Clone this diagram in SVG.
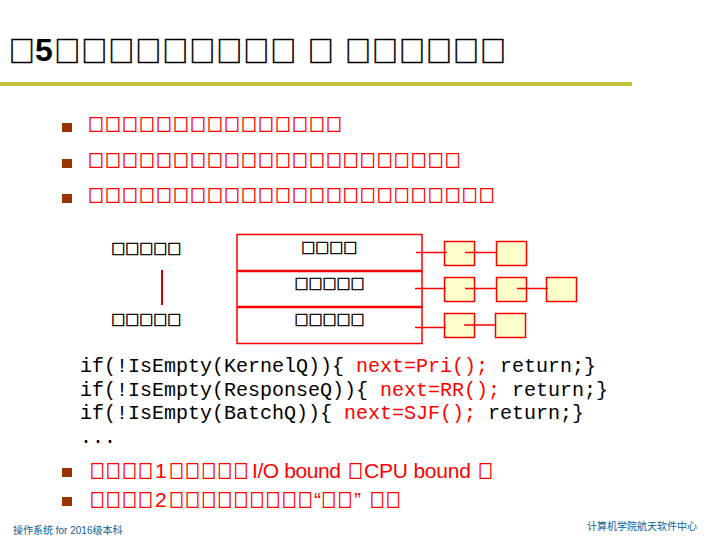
<svg xmlns="http://www.w3.org/2000/svg" width="720" height="540" viewBox="0 0 720 540">
<style>
.cjk{font-family:"Noto Sans CJK SC","Noto Sans CJK JP",sans-serif}
.lat{font-family:"Liberation Sans",Arial,"Noto Sans CJK SC",sans-serif}
.mono{font-family:"Liberation Mono","Courier New",monospace;font-size:20px}
.red{fill:#FF0000}
.blk{fill:#000000}
.tb{stroke:#000000;stroke-width:0.55}
.tr{stroke:#FF0000;stroke-width:0.5}
.t1{font-size:25.6px;letter-spacing:1.4px}
.t2{font-size:15.4px;letter-spacing:1.6px}
.t3{font-size:14px;letter-spacing:0px}
.t4{font-size:14px;letter-spacing:2.1px}
.bul{fill:#993300}
.qbox{fill:#FFFFFF;stroke:#FF0000;stroke-width:1.5}
.node{fill:#FFFFCC;stroke:#FF0000;stroke-width:1.5}
.link{stroke:#FF0000;stroke-width:1.5;fill:none}
.foot{fill:#0B5E98;font-size:10px}
</style>
<rect width="720" height="540" fill="#FFFFFF"/>

<g id="title">
  <text class="cjk blk tb t1" transform="translate(0,61.7) scale(1,1.1)" x="8.9" y="0">□</text>
  <text class="lat blk" font-size="32" font-weight="bold" x="35" y="61">5</text>
  <text class="cjk blk tb t1" transform="translate(0,61.7) scale(1,1.1)" x="54.5" y="0">□□□□□□□□□</text>
  <text class="cjk blk tb t1" transform="translate(0,61.7) scale(1,1.1)" x="307.9" y="0">□</text>
  <text class="cjk blk tb t1" transform="translate(0,61.7) scale(1,1.1)" x="345.2" y="0">□□□□□□</text>
  <rect x="0" y="82" width="632" height="4" fill="#C2C23A"/>
</g>

<g id="bullets">
  <g id="bullet1"><rect class="bul" x="62" y="123" width="10" height="9"/><text class="cjk red tr t2" transform="translate(0,130.8) scale(1,1.08)" x="88.3" y="0">□□□□□□□□□□□□□□□</text></g>
  <g id="bullet2"><rect class="bul" x="62" y="159" width="10" height="9"/><text class="cjk red tr t2" transform="translate(0,166.8) scale(1,1.08)" x="88.3" y="0">□□□□□□□□□□□□□□□□□□□□□□</text></g>
  <g id="bullet3"><rect class="bul" x="62" y="194" width="10" height="9"/><text class="cjk red tr t2" transform="translate(0,201.8) scale(1,1.08)" x="88.3" y="0">□□□□□□□□□□□□□□□□□□□□□□□□</text></g>
</g>

<g id="priority-labels">
  <text class="cjk blk tb t3" x="111.2" y="253.8">□□□□□</text>
  <line x1="162" y1="270" x2="162" y2="305" stroke="#CC0000" stroke-width="2"/>
  <text class="cjk blk tb t3" x="111.2" y="325.3">□□□□□</text>
</g>

<g id="queue1"><rect class="qbox" x="237" y="234.5" width="185" height="36"/><text class="cjk blk tb t3" x="301.2" y="252.6">□□□□</text></g>
<g id="queue2"><rect class="qbox" x="237" y="271.5" width="185" height="35"/><text class="cjk blk tb t3" x="294.5" y="288.6">□□□□□</text></g>
<g id="queue3"><rect class="qbox" x="237" y="307.5" width="185" height="36"/><text class="cjk blk tb t3" x="294.5" y="325.3">□□□□□</text></g>

<g id="nodes">
  <rect id="n11" class="node" x="444.5" y="241.5" width="30" height="24"/>
  <rect id="n12" class="node" x="496.5" y="241.5" width="30" height="24"/>
  <rect id="n21" class="node" x="444.5" y="277.5" width="30" height="24"/>
  <rect id="n22" class="node" x="496.5" y="277.5" width="30" height="24"/>
  <rect id="n23" class="node" x="546.5" y="277.5" width="30" height="24"/>
  <rect id="n31" class="node" x="444.5" y="313.5" width="30" height="24"/>
  <rect id="n32" class="node" x="495.5" y="313.5" width="30" height="24"/>
</g>

<g id="connectors">
  <line class="link" x1="416" y1="252.5" x2="447" y2="252.5"/>
  <line class="link" x1="465" y1="252.5" x2="497" y2="252.5"/>
  <line class="link" x1="415" y1="288.5" x2="446" y2="288.5"/>
  <line class="link" x1="465" y1="288.5" x2="496" y2="288.5"/>
  <line class="link" x1="517" y1="288.5" x2="548" y2="288.5"/>
  <line class="link" x1="415" y1="327.5" x2="446" y2="327.5"/>
  <line class="link" x1="464" y1="325" x2="496" y2="325"/>
</g>

<g id="code" class="mono blk">
  <text x="80" y="372">if(!IsEmpty(KernelQ)){ <tspan class="red">next=Pri();</tspan> return;}</text>
  <text x="80" y="395.5">if(!IsEmpty(ResponseQ)){ <tspan class="red">next=RR();</tspan> return;}</text>
  <text x="80" y="419">if(!IsEmpty(BatchQ)){ <tspan class="red">next=SJF();</tspan> return;}</text>
  <text x="80" y="442.5">...</text>
</g>

<g id="notes">
  <g id="note1">
    <rect class="bul" x="62" y="468" width="10" height="9"/>
    <text class="cjk red tr t4" transform="translate(0,478.1) scale(1,1.27)" x="90.2" y="0">□□□□</text>
    <text class="lat red" font-size="21" x="155" y="478">1</text>
    <text class="cjk red tr t4" transform="translate(0,478.1) scale(1,1.27)" x="169.5" y="0">□□□□□</text>
    <text class="lat red" font-size="21" x="252" y="478" textLength="89">I/O bound</text>
    <text class="cjk red tr t4" transform="translate(0,478.1) scale(1,1.27)" x="348.5" y="0">□</text>
    <text class="lat red" font-size="21" x="364" y="478" textLength="107">CPU bound</text>
    <text class="cjk red tr t4" transform="translate(0,478.1) scale(1,1.27)" x="478.5" y="0">□</text>
  </g>
  <g id="note2">
    <rect class="bul" x="62" y="497" width="10" height="9"/>
    <text class="cjk red tr t4" transform="translate(0,506.5) scale(1,1.27)" x="90.2" y="0">□□□□</text>
    <text class="lat red" font-size="21" x="155" y="507">2</text>
    <text class="cjk red tr t4" transform="translate(0,506.5) scale(1,1.27)" x="169.5" y="0">□□□□□□□□□</text>
    <text class="lat red" font-size="21" x="314" y="507">“</text>
    <text class="cjk red tr t4" transform="translate(0,506.5) scale(1,1.27)" x="321.8" y="0">□□</text>
    <text class="lat red" font-size="21" x="354" y="507">”</text>
    <text class="cjk red tr t4" transform="translate(0,506.5) scale(1,1.27)" x="370.2" y="0">□□</text>
  </g>
</g>

<g id="footer">
  <text class="lat foot" x="13" y="534">操作系统 for 2016级本科</text>
  <text class="lat foot" x="587" y="529.5">计算机学院航天软件中心</text>
</g>
</svg>
